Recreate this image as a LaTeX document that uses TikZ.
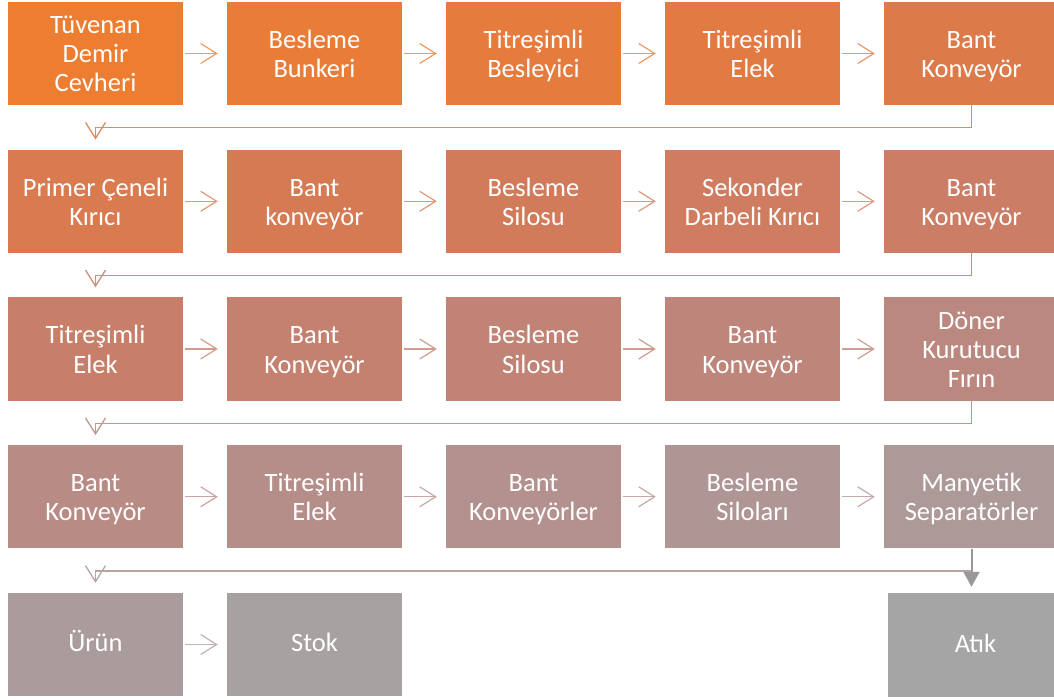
\documentclass[tikz,border=0pt]{standalone}
\usepackage{fontspec}
\setmainfont{Carlito}
\usetikzlibrary{arrows.meta}
\newcommand\mkcol[2]{%
 \pgfmathsetmacro\tS{0.839*(1-(#2))}%
 \pgfmathsetmacro\tL{0.561+0.086*(#2)}%
 \pgfmathsetmacro\tC{(2-2*\tL)*\tS}%
 \pgfmathsetmacro\tH{24.3*(1-(#2))}%
 \pgfmathsetmacro\tM{\tL-\tC/2}%
 \pgfmathsetmacro\tR{min(1,\tM+\tC)}%
 \pgfmathsetmacro\tG{\tM+\tC*\tH/60}%
 \definecolor{#1}{rgb}{\tR,\tG,\tM}}
\mkcol{c0}{0/22}\mkcol{c1}{1/22}\mkcol{c2}{2/22}\mkcol{c3}{3/22}\mkcol{c4}{4/22}
\mkcol{c5}{5/22}\mkcol{c6}{6/22}\mkcol{c7}{7/22}\mkcol{c8}{8/22}\mkcol{c9}{9/22}
\mkcol{c10}{10/22}\mkcol{c11}{11/22}\mkcol{c12}{12/22}\mkcol{c13}{13/22}\mkcol{c14}{14/22}
\mkcol{c15}{15/22}\mkcol{c16}{16/22}\mkcol{c17}{17/22}\mkcol{c18}{18/22}\mkcol{c19}{19/22}
\mkcol{c20}{20/22}\mkcol{c21}{21/22}
\definecolor{atikgray}{RGB}{165,165,165}
\definecolor{thickgray}{RGB}{152,152,152}
\newcommand\firstln{\rule{0pt}{26.5pt}}
\begin{document}
\begin{tikzpicture}[x=1pt,y=-1pt,
  boxbase/.style={rectangle, fill=#1, minimum width=175pt, minimum height=103pt, inner sep=0pt,
    text=white, align=center, font=\fontsize{26.5}{29}\selectfont},
  box/.style={boxbase=#1,
    execute at end node={\rule[-7.5pt]{0pt}{7.5pt}}},
  sbox/.style={boxbase=#1,
    execute at begin node={\rule{0pt}{21.5pt}},
    execute at end node={\rule[-7.5pt]{0pt}{7.5pt}}},
  arr/.style={draw=#1!78!white, line width=1.2pt, line join=miter,
    -{Straight Barb[length=16pt,width=20pt]}, shorten <=2pt, shorten >=9pt},
  conn/.style={draw=#1!88!white, line width=1.3pt, line join=miter,
    -{Straight Barb[length=16pt,width=20pt]}, shorten >=10pt},
  thickarr/.style={draw=thickgray, line width=2pt,
    -{Triangle[length=15pt,width=16pt]}, shorten >=6pt}]
\useasboundingbox (0,0) rectangle (1054,700);
% row 1
\node[box=c0] (r1c1) at (95.5,53.5) {\firstln Tüvenan\\Demir\\Cevheri};
\node[box=c1] (r1c2) at (314.5,53.5) {\firstln Besleme\\Bunkeri};
\node[box=c2] (r1c3) at (533.5,53.5) {\firstln Titreşimli\\Besleyici};
\node[box=c3] (r1c4) at (752.5,53.5) {\firstln Titreşimli\\Elek};
\node[box=c4] (r1c5) at (971.5,53.5) {\firstln Bant\\Konveyör};
% row 2
\node[box=c5] (r2c1) at (95.5,201.3) {\firstln Primer Çeneli\\Kırıcı};
\node[box=c6] (r2c2) at (314.5,201.3) {\firstln Bant\\konveyör};
\node[box=c7] (r2c3) at (533.5,201.3) {\firstln Besleme\\Silosu};
\node[box=c8] (r2c4) at (752.5,201.3) {\firstln Sekonder\\Darbeli Kırıcı};
\node[box=c9] (r2c5) at (971.5,201.3) {\firstln Bant\\Konveyör};
% row 3
\node[box=c10] (r3c1) at (95.5,349) {\firstln Titreşimli\\Elek};
\node[box=c11] (r3c2) at (314.5,349) {\firstln Bant\\Konveyör};
\node[box=c12] (r3c3) at (533.5,349) {\firstln Besleme\\Silosu};
\node[box=c13] (r3c4) at (752.5,349) {\firstln Bant\\Konveyör};
\node[box=c14] (r3c5) at (971.5,349) {\firstln Döner\\Kurutucu\\Fırın};
% row 4
\node[box=c15] (r4c1) at (95.5,496.8) {\firstln Bant\\Konveyör};
\node[box=c16] (r4c2) at (314.5,496.8) {\firstln Titreşimli\\Elek};
\node[box=c17] (r4c3) at (533.5,496.8) {\firstln Bant\\Konveyörler};
\node[box=c18] (r4c4) at (752.5,496.8) {\firstln Besleme\\Siloları};
\node[box=c19] (r4c5) at (971.5,496.8) {\firstln Manyetik\\Separatörler};
% row 5
\node[sbox=c20] (urun) at (95.5,644.5) {Ürün};
\node[sbox=c21] (stok) at (314.5,644.5) {Stok};
\node[sbox=atikgray, minimum height=104pt] (atik) at (975.5,645) {Atık};
% arrows in rows
\draw[arr=c0] (r1c1.east) -- (r1c2.west);
\draw[arr=c1] (r1c2.east) -- (r1c3.west);
\draw[arr=c2] (r1c3.east) -- (r1c4.west);
\draw[arr=c3] (r1c4.east) -- (r1c5.west);
\draw[arr=c5] (r2c1.east) -- (r2c2.west);
\draw[arr=c6] (r2c2.east) -- (r2c3.west);
\draw[arr=c7] (r2c3.east) -- (r2c4.west);
\draw[arr=c8] (r2c4.east) -- (r2c5.west);
\draw[arr=c10] (r3c1.east) -- (r3c2.west);
\draw[arr=c11] (r3c2.east) -- (r3c3.west);
\draw[arr=c12] (r3c3.east) -- (r3c4.west);
\draw[arr=c13] (r3c4.east) -- (r3c5.west);
\draw[arr=c15] (r4c1.east) -- (r4c2.west);
\draw[arr=c16] (r4c2.east) -- (r4c3.west);
\draw[arr=c17] (r4c3.east) -- (r4c4.west);
\draw[arr=c18] (r4c4.east) -- (r4c5.west);
\draw[arr=c20] (urun.east) -- (stok.west);
% row connectors
\draw[conn=c4] (r1c5.south) -- ++(0,22.5) -| (r2c1.north);
\draw[conn=c9] (r2c5.south) -- ++(0,22.5) -| (r3c1.north);
\draw[conn=c14] (r3c5.south) -- ++(0,22.5) -| (r4c1.north);
\draw[conn=c19] (r4c5.south) -- ++(0,22.5) -| (urun.north);
% waste arrow
\draw[thickarr] (r4c5.south) -- (r4c5.south |- atik.north);
\end{tikzpicture}
\end{document}
